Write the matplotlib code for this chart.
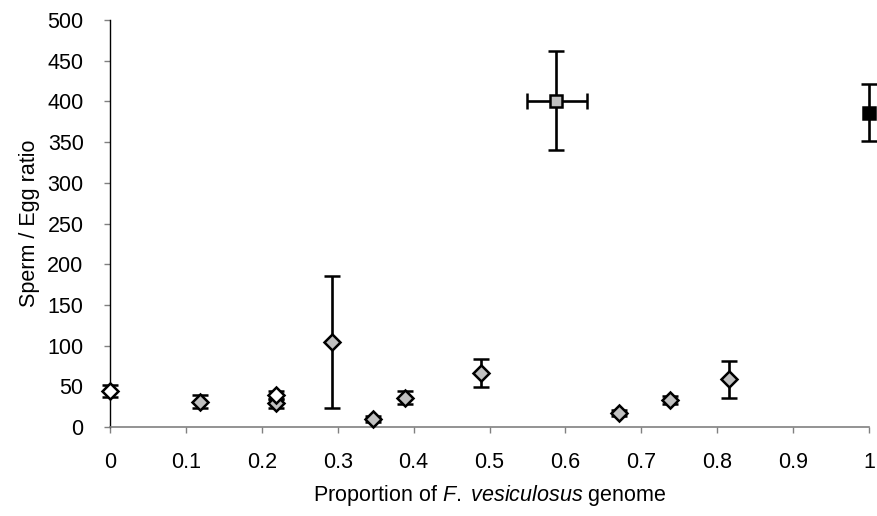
import matplotlib.pyplot as plt
import numpy as np

plt.rcParams['font.family'] = ['Liberation Sans', 'DejaVu Sans']
plt.rcParams['mathtext.fontset'] = 'custom'
plt.rcParams['mathtext.rm'] = 'Liberation Sans'
plt.rcParams['mathtext.it'] = 'Liberation Sans:italic'

# hybrids (grey diamonds)
hyb_x = [0.119, 0.219, 0.292, 0.346, 0.389, 0.489, 0.670, 0.738, 0.815]
hyb_y = [31, 29, 104, 10, 36, 66, 17, 33, 59]
hyb_lo = [8, 6, 81, 4, 8, 17, 4, 5, 23]
hyb_hi = [8, 6, 81, 4, 8, 18, 4, 5, 22]

# white diamonds
wht_x = [0.0, 0.219]
wht_y = [44, 39]
wht_err = [7, 5]

# grey square with x error
sq_x, sq_y = 0.588, 401
sq_xerr = [[0.038], [0.040]]
sq_yerr = 61

# black square
blk_x, blk_y = 1.0, 386
blk_yerr = 35

xticks = [0, 0.1, 0.2, 0.3, 0.4, 0.5, 0.6, 0.7, 0.8, 0.9, 1]
xticklabels = ['0', '0.1', '0.2', '0.3', '0.4', '0.5', '0.6', '0.7', '0.8', '0.9', '1']
yticks = list(range(0, 501, 50))

fig = plt.figure(figsize=(8.77, 5.16), dpi=100)
ax = fig.add_axes([110 / 877, 89 / 516, 759 / 877, 407 / 516])

# error bar style shared by all series
ekw = dict(ecolor='black', elinewidth=1.9, capsize=5.5, capthick=1.9,
           linestyle='none', clip_on=False, zorder=3)

ax.errorbar(hyb_x, hyb_y, yerr=[hyb_lo, hyb_hi], marker='D', markersize=8,
            markerfacecolor='#c0c0c0', markeredgecolor='black', markeredgewidth=1.8, **ekw)
ax.errorbar(wht_x, wht_y, yerr=wht_err, marker='D', markersize=8,
            markerfacecolor='white', markeredgecolor='black', markeredgewidth=1.8, **ekw)
ax.errorbar([sq_x], [sq_y], xerr=sq_xerr, yerr=sq_yerr, marker='s', markersize=9,
            markerfacecolor='#c0c0c0', markeredgecolor='black', markeredgewidth=1.8, **ekw)
ax.errorbar([blk_x], [blk_y], yerr=blk_yerr, marker='s', markersize=9,
            markerfacecolor='black', markeredgecolor='black', markeredgewidth=1.8, **ekw)

ax.set_xlim(0, 1)
ax.set_ylim(0, 500)
ax.set_xticks(xticks)
ax.set_xticklabels(xticklabels)
ax.set_yticks(yticks)

for s in ['top', 'right']:
    ax.spines[s].set_visible(False)
ax.spines['left'].set_color('black')
ax.spines['left'].set_linewidth(1.0)
ax.spines['bottom'].set_color('#808080')
ax.spines['bottom'].set_linewidth(1.2)
ax.tick_params(axis='both', colors='#808080', labelcolor='black', labelsize=15.5,
               length=4, width=1)
ax.tick_params(axis='x', pad=14)
ax.tick_params(axis='y', pad=15)

ax.set_ylabel('Sperm / Egg ratio', fontsize=15.5, labelpad=5)
ax.set_xlabel(r'Proportion of $\it{F.\ vesiculosus}$ genome', fontsize=15.5, labelpad=7)

fig.savefig('out.png', dpi=100)
